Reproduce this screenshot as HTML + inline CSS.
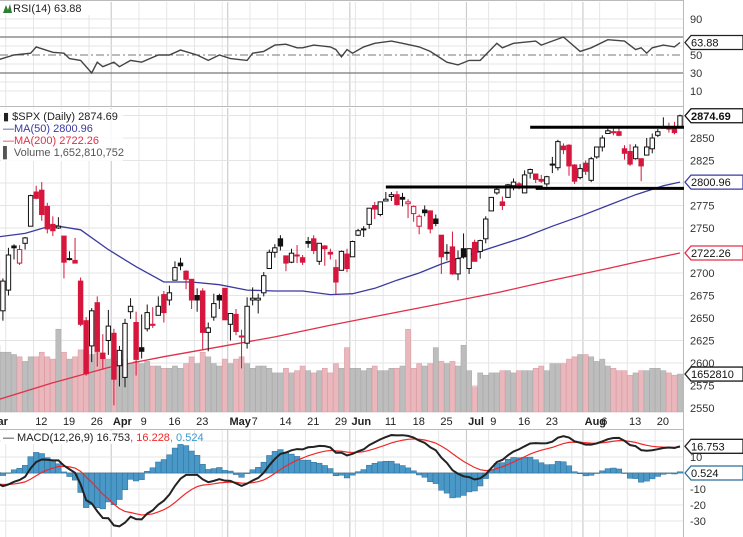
<!DOCTYPE html>
<html><head><meta charset="utf-8"><style>
html,body{margin:0;padding:0;background:#fff;}
svg{display:block;font-family:"Liberation Sans",sans-serif;}
</style></head><body>
<svg id="chart" width="743" height="537" viewBox="0 0 743 537">
<rect x="0" y="0" width="743" height="537" fill="#fff"/>
</svg>
<script>
const opens=[2715,2658,2681,2730,2711,2733,2752,2790,2792,2774,2754,2750,2741,2715,2714,2691,2647,2619,2667,2611,2625,
2633,2597,2584,2657,2645,2617,2638,2643,2653,2676,2670,2692,2711,2702,2693,2675,2680,2634,2651,2675,2683,
2643,2654,2629,2622,2670,2670,2678,2705,2723,2738,2719,2712,2719,2717,2735,2738,2713,2730,2723,2706,2703,2721,
2718,2742,2749,2754,2775,2765,2780,2785,2787,2784,2777,2766,2752,2770,2769,2760,2742,2723,2729,2699,2727,
2705,2734,2724,2738,2769,2789,2779,2784,2797,2799,2789,2811,2810,2804,2799,2820,2817,2841,2842,2820,2806,
2822,2803,2829,2840,2855,2856,2857,2838,2835,2827,2827,2831,2838,2853,2861,2860,2860,2862];
const highs=[2730,2694,2728,2732,2731,2740,2787,2797,2801,2778,2763,2762,2741,2724,2739,2695,2651,2661,2674,2632,2659,
2638,2619,2649,2672,2657,2654,2665,2662,2674,2680,2686,2713,2717,2703,2693,2683,2683,2645,2677,2677,2683,
2655,2660,2637,2673,2684,2677,2701,2726,2732,2742,2719,2727,2731,2720,2740,2742,2733,2731,2727,2715,2725,2727,
2736,2749,2752,2772,2779,2779,2790,2790,2791,2789,2782,2775,2765,2775,2769,2765,2742,2732,2746,2725,2744,
2727,2737,2737,2763,2784,2795,2785,2799,2805,2801,2814,2816,2810,2809,2808,2829,2848,2844,2843,2821,2821,
2825,2829,2840,2853,2863,2862,2862,2842,2843,2843,2827,2850,2855,2860,2873,2867,2868,2876];
const lows=[2659,2647,2675,2715,2709,2726,2752,2782,2758,2744,2741,2749,2694,2714,2711,2641,2586,2601,2596,2593,2609,
2553,2574,2573,2649,2586,2605,2635,2639,2653,2645,2664,2692,2703,2682,2660,2657,2615,2613,2647,2660,2648,
2625,2631,2594,2616,2664,2655,2674,2705,2717,2725,2702,2711,2711,2709,2728,2721,2709,2708,2715,2676,2703,2701,
2718,2741,2740,2749,2760,2763,2780,2780,2775,2774,2761,2757,2743,2763,2744,2752,2699,2714,2698,2692,2716,
2699,2713,2716,2733,2769,2787,2770,2784,2792,2793,2789,2805,2800,2800,2796,2811,2814,2832,2808,2799,2804,
2809,2801,2827,2835,2855,2853,2852,2826,2819,2826,2802,2831,2833,2851,2861,2856,2854,2862];
const closes=[2677,2691,2720,2728,2726,2739,2786,2783,2765,2749,2747,2752,2712,2716,2711,2643,2588,2658,2613,2605,2641,
2582,2614,2644,2663,2604,2613,2656,2642,2663,2656,2678,2706,2708,2693,2670,2670,2634,2639,2666,2670,2648,
2655,2635,2630,2663,2672,2672,2697,2723,2728,2730,2711,2722,2720,2712,2733,2725,2733,2727,2721,2690,2724,2705,
2735,2747,2749,2772,2771,2779,2782,2787,2776,2782,2779,2774,2763,2767,2749,2755,2718,2723,2699,2716,2718,
2727,2713,2736,2760,2784,2793,2775,2798,2801,2798,2809,2815,2804,2802,2807,2821,2846,2837,2819,2802,2816,
2813,2827,2840,2850,2858,2857,2853,2833,2821,2840,2819,2840,2850,2857,2862,2861,2856,2874.69];
const volumesB=[2.9,2.6,2.6,2.5,2.4,2.2,2.4,2.4,2.6,2.4,2.3,3.6,2.6,2.3,2.4,2.7,2.7,2.5,2.7,2.4,2.3,
2.5,2.2,2.3,2.1,2.2,2.1,2.2,2.0,2.0,1.9,1.9,2.0,1.9,2.1,2.4,2.1,2.6,2.4,2.1,2.0,2.3,
2.1,2.3,2.4,2.1,1.9,2.0,2.0,1.9,1.7,1.7,1.9,1.7,1.8,2.0,1.8,1.7,1.8,1.9,1.7,2.1,1.9,2.8,
1.9,1.9,1.8,1.9,2.0,1.8,1.8,1.9,1.9,2.0,3.6,1.9,2.1,2.0,2.1,2.8,2.2,2.1,2.2,2.0,2.9,
1.8,1.1,1.7,1.6,1.7,1.7,1.8,1.8,1.7,1.8,1.8,1.8,1.9,2.0,1.8,2.1,2.1,2.1,2.3,2.4,2.5,
2.5,2.4,2.2,2.3,2.0,1.9,1.8,1.8,1.6,1.7,1.8,1.8,1.9,1.9,1.8,1.7,1.6,1.65];
const ma50Idx=[0,5,10,15,20,25,30,35,40,45,50,55,60,64,68,72,76,80,85,90,95,100,105,110,115,120,123];
const ma50Val=[2740,2744,2753,2748,2726,2707,2690,2690,2687,2681,2680,2680,2676,2677,2683,2692,2700,2710,2720,2730,2740,2752,2763,2775,2787,2797,2800.96];
const ma200Idx=[0,10,20,30,40,50,60,70,80,90,100,110,115,123];
const ma200Val=[2559,2578,2595,2607,2618,2629,2642,2654,2666,2678,2692,2705,2712,2722.26];
const rsiIdx=[0,3,6,7,10,12,13,15,17,18,19,21,22,24,26,29,31,33,36,38,40,42,45,46,48,50,52,54,55,57,60,61,62,63,64,66,68,71,73,76,78,81,83,85,87,90,91,93,97,98,102,105,107,110,113,115,116,117,118,120,122,123];
const rsiVal=[44.4,50,52,59,53,52,46,44,30,42,37,42,37,44,42,50,50,55.5,50,44,50,46,44,52,54,61,62,58,58,61,59,56,48,56,52,59,63,65.5,63,59,54,42,39,44,44,63,58,63,65.5,61,70,54,58,67,65.5,56,58,52,58,61,59,63.88];
const priceTicks=[2550,2575,2600,2625,2650,2675,2700,2750,2775,2825,2850];
const rsiTicks=[90,50,30,10];
const macdTicks=[10,-10,-20,-30];
const dateLabels=[[0,"Mar",1],[7,"12",0],[12,"19",0],[17,"26",0],[21,"Apr",1],[26,"9",0],[31,"16",0],[36,"23",0],[42,"May",1],[46,"7",0],[51,"14",0],[56,"21",0],[61,"29",0],[64,"Jun",1],[70,"11",0],[75,"18",0],[80,"25",0],[85,"Jul",1],[89,"9",0],[94,"16",0],[99,"23",0],[106,"Aug",1],[109,"6",0],[114,"13",0],[119,"20",0]];
const weekIdx=[2,7,12,17,26,31,36,41,46,51,56,61,65,70,75,80,89,94,99,104,109,114,119];
const monthIdx=[21,42,64,85,106];
const supportLines=[[70,97,2795.5],[97,123,2794],[96,123,2862]];

const svg=document.getElementById('chart');
const NS='http://www.w3.org/2000/svg';
function mk(tag,attrs,parent){const e=document.createElementNS(NS,tag);for(const k in attrs)e.setAttribute(k,attrs[k]);(parent||svg).appendChild(e);return e;}
const N=closes.length;
const xOf=i=>680-(N-1-i)*5.55;
const yP=p=>138+(2850-p)*0.9;
const yR=r=>55-(r-50)*0.9;
const yM=v=>473-v*1.6;
const yV=v=>412-v*23;
const PR=683;

function hgrid(y,name,col){const l=mk('line',{x1:0,x2:PR,y1:y,y2:y,stroke:col||'#e4e4e4','stroke-width':1});}
function vgrids(y1,y2){
  weekIdx.forEach(i=>{const l=mk('line',{x1:xOf(i)-2.7,x2:xOf(i)-2.7,y1:y1,y2:y2,stroke:'#e6e6e6'});});
  monthIdx.forEach(i=>{const l=mk('line',{x1:xOf(i)-2.7,x2:xOf(i)-2.7,y1:y1,y2:y2,stroke:'#c4c4c4'});});
}
vgrids(2,106);vgrids(108,412);vgrids(430,537);
[90,80,60,40,20,10].forEach(r=>hgrid(yR(r),'rsi-gridline'));
for(let p=2550;p<=2875;p+=25)hgrid(yP(p),'price-gridline');
[20,10,0,-10,-20,-30].forEach(v=>hgrid(yM(v),'macd-gridline'));
[[0.5,0.5],[106.5,106.5],[411.5,411.5],[429.5,429.5]].forEach(a=>{const l=mk('line',{x1:0,x2:743,y1:a[0],y2:a[1],stroke:'#bbb'});});
const rb=mk('line',{x1:PR+.5,x2:PR+.5,y1:0,y2:537,stroke:'#bbb'});


// RSI
const r70=mk('line',{x1:0,x2:PR,y1:yR(70),y2:yR(70),stroke:'#777','stroke-width':1.3});

const r30=mk('line',{x1:0,x2:PR,y1:yR(30),y2:yR(30),stroke:'#777','stroke-width':1.3});

const r50=mk('line',{x1:0,x2:PR,y1:yR(50),y2:yR(50),stroke:'#777','stroke-dasharray':'8,3,2,3'});

const rl=mk('polyline',{points:rsiIdx.map((k,j)=>xOf(k)+','+yR(rsiVal[j])).join(' '),fill:'none',stroke:'#444','stroke-width':1.4});


// volume
for(let i=0;i<N;i++){
  const down=i>0&&closes[i]<closes[i-1];
  const b=mk('rect',{x:xOf(i)-2.6,y:yV(volumesB[i]),width:5.2,height:412-yV(volumesB[i]),fill:down?'#e9b7bc':'#bdbdbd',stroke:down?'#d99aa1':'#a8a8a8','stroke-width':0.5});
  
}
function sparseLine(idx,val,col,name){const l=mk('polyline',{points:idx.map((k,j)=>xOf(k)+','+yP(val[j])).join(' '),fill:'none',stroke:col,'stroke-width':1.3});}
sparseLine(ma200Idx,ma200Val,'#e0304a','ma200-line');
sparseLine(ma50Idx,ma50Val,'#3a3aa0','ma50-line');
for(let i=0;i<N;i++){
  const o=opens[i],c=closes[i],h=highs[i],l=lows[i];
  const red=i>0?c<closes[i-1]:true;const col=red?'#d6163c':'#111';
  const x=xOf(i);
  const w=mk('line',{x1:x,x2:x,y1:yP(h),y2:yP(l),stroke:col,'stroke-width':1});
  
  const top=yP(Math.max(o,c)),bh=Math.max(1,Math.abs(yP(o)-yP(c)));
  const filled=c<o;
  const b=mk('rect',{x:x-2.2,y:top,width:4.4,height:bh,fill:filled?col:'#fff',stroke:col,'stroke-width':1});
  
}
supportLines.forEach(s=>{const l=mk('line',{x1:xOf(s[0]),x2:Math.min(xOf(s[1])+7,687),y1:yP(s[2]),y2:yP(s[2]),stroke:'#000','stroke-width':3});});

// MACD
let e12=2725,e26=2728,sig=-7;const macd=[],sg=[];
for(let i=0;i<N;i++){e12+=(closes[i]-e12)*2/13;e26+=(closes[i]-e26)*2/27;const m=e12-e26;sig+=(m-sig)*0.2;macd.push(m);sg.push(sig);}
const z=mk('line',{x1:0,x2:PR,y1:yM(0),y2:yM(0),stroke:'#999'});

for(let i=0;i<N;i++){const hv=(macd[i]-sg[i])*1.5;const y0=yM(0),y1=yM(hv);
  const b=mk('rect',{x:xOf(i)-2.8,y:Math.min(y0,y1),width:5.6,height:Math.max(0.5,Math.abs(y1-y0)),fill:'#4a98c8',stroke:'#2a6d96','stroke-width':0.5});
  }
const sl=mk('polyline',{points:sg.map((v,i)=>xOf(i)+','+yM(v)).join(' '),fill:'none',stroke:'#f02828','stroke-width':1.2});

const ml=mk('polyline',{points:macd.map((v,i)=>xOf(i)+','+yM(v)).join(' '),fill:'none',stroke:'#222','stroke-width':2});


const ra=mk('rect',{x:PR+1,y:0,width:743-PR-1,height:537,fill:'#fff'});

function tick(y,t,name){const e=mk('text',{x:690,y:y+4,'font-size':11,fill:'#333'});e.textContent=t;}
priceTicks.forEach(p=>tick(yP(p),String(p),'price-tick-label'));
rsiTicks.forEach(r=>tick(yR(r),String(r),'rsi-tick-label'));
macdTicks.forEach(v=>tick(yM(v),String(v),'macd-tick-label'));
function tag(y,t,col,name,bold){const g=mk('g',{});
  mk('polygon',{points:`${PR+2},${y} ${PR+8},${y-7} 743,${y-7} 743,${y+7} ${PR+8},${y+7}`,fill:'#fff',stroke:col,'stroke-width':1.3},g);
  const e=mk('text',{x:PR+8,y:y+4,'font-size':11,fill:'#111','font-weight':bold?'bold':'normal'},g);e.textContent=t;}
tag(yR(rsiVal[rsiVal.length-1]),'63.88','#222','rsi-value-tag');
tag(yP(closes[N-1]),'2874.69','#111','price-value-tag',true);
tag(yP(ma50Val[ma50Val.length-1]),'2800.96','#3a3aa0','ma50-value-tag');
tag(yP(ma200Val[ma200Val.length-1]),'2722.26','#e0304a','ma200-value-tag');
tag(yV(volumesB[N-1]),'1652810','#222','volume-value-tag');
tag(yM(macd[N-1]),'16.753','#222','macd-value-tag');
tag(yM(0),'0.524','#2a6d96','histogram-value-tag');

dateLabels.forEach(d=>{const e=mk('text',{x:xOf(d[0])-(d[2]?(d[0]===0?9:1):1),y:425,'font-size':11,fill:'#222','font-weight':d[2]?'bold':'normal'});e.textContent=d[1];});

function txt(x,y,t,col,name,parent){const e=mk('text',{x:x,y:y,'font-size':11,fill:col},parent);e.textContent=t;return e;}
const rg=mk('rect',{x:2,y:2,width:104,height:13,fill:'#fff'});
const ic=mk('path',{d:'M3 13 L6 5 L8 10 L10 4 L12 13 Z',fill:'#2e7d32'});
txt(13,12,'RSI(14) 63.88','#222','rsi-legend');
const pg=mk('rect',{x:1,y:109,width:122,height:52,fill:'#fff','fill-opacity':0.85});
txt(3,120,'\u25AE $SPX (Daily) 2874.69','#222','price-legend');
txt(3,132,'\u2014MA(50) 2800.96','#3a3aa0','ma50-legend');
txt(3,144,'\u2014MA(200) 2722.26','#e0304a','ma200-legend');
txt(3,156,'\u258C Volume 1,652,810,752','#555','volume-legend');
const mg=mk('rect',{x:1,y:431,width:178,height:13,fill:'#fff'});
const t=txt(3,441,'\u2014 MACD(12,26,9) 16.753','#222','macd-legend');
const s1=mk('tspan',{fill:'#f02828'},t);s1.textContent=', 16.228';
const s2=mk('tspan',{fill:'#3a9ad0'},t);s2.textContent=', 0.524';
</script>
</body></html>
